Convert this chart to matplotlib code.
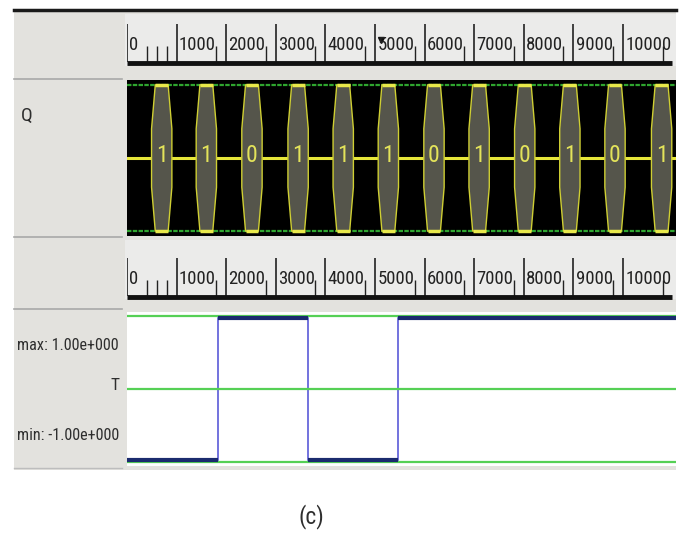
import matplotlib
matplotlib.use("Agg")
import matplotlib.pyplot as plt
from matplotlib.patches import Rectangle, Polygon
from matplotlib import font_manager as fm

W, H = 685, 558

# pick a narrow font if one is installed, else DejaVu Sans
_names = {f.name for f in fm.fontManager.ttflist}
NARROW = None
for cand in ["Liberation Sans Narrow", "DejaVu Sans Condensed", "Noto Sans Condensed",
             "Roboto Condensed", "Open Sans Condensed"]:
    if cand in _names:
        NARROW = cand
        break
_cond_stretch = None
if NARROW is None:
    for f in fm.fontManager.ttflist:
        if f.name in ("DejaVu Sans", "Noto Sans", "Open Sans") and str(f.stretch) in (
                "condensed", "semi-condensed", "extra-condensed", "75", "87"):
            NARROW = f.name
            _cond_stretch = f.stretch
            break
if NARROW is None:
    FAM = ["DejaVu Sans"]
    SCALE = 0.72
    STRETCH = "normal"
else:
    FAM = [NARROW, "DejaVu Sans"]
    SCALE = 1.0
    STRETCH = _cond_stretch if _cond_stretch is not None else "normal"
plt.rcParams['font.family'] = FAM
plt.rcParams['font.stretch'] = STRETCH

# ---- data ----
ruler_labels = ["0", "1000", "2000", "3000", "4000", "5000", "6000", "7000", "8000", "9000", "10000"]
ruler_major = [0, 1000, 2000, 3000, 4000, 5000, 6000, 7000, 8000, 9000, 10000]
ruler_minor = [400, 600, 800, 1800, 2800, 3800, 4800, 5800, 6800, 7800, 8800, 9800, 10800]
q_times = [700, 1600, 2520, 3450, 4360, 5270, 6190, 7100, 8020, 8930, 9840, 10780]
q_values = ["1", "1", "0", "1", "1", "1", "0", "1", "0", "1", "0", "1"]
t_edges = [0, 1835, 3650, 5465, 11070]
t_values = [-1, 1, -1, 1]
t_max_label = "max: 1.00e+000"
t_min_label = "min: -1.00e+000"
XMAX = 11070

fig = plt.figure(figsize=(W / 100, H / 100), dpi=100)
fig.patch.set_facecolor("white")


def box(x0, y0, x1, y1):
    return [x0 / W, 1 - y1 / H, (x1 - x0) / W, (y1 - y0) / H]


TXT = "#2e2e2e"

# background axes in pixel coordinates
bg = fig.add_axes([0, 0, 1, 1])
bg.set_xlim(0, W)
bg.set_ylim(H, 0)
bg.axis("off")
bg.add_patch(Rectangle((14, 12), 662, 458, facecolor="#e3e2de", edgecolor="none"))
bg.add_patch(Rectangle((125, 14), 551, 52, facecolor="#ebebea", edgecolor="none"))
bg.add_patch(Rectangle((125, 240), 551, 59, facecolor="#ebebea", edgecolor="none"))
bg.plot([14, 676], [10, 10], color="#1a1a1a", lw=2.5)
for yy in (79, 237, 309):
    bg.plot([14, 122], [yy, yy], color="#a9a9a9", lw=1.2)
bg.plot([14, 122], [468, 468], color="#bdbdbd", lw=1.0)
bg.text(21, 116, "Q", fontsize=14 * SCALE, color=TXT, ha="left", va="center")
bg.text(119, 345, t_max_label, fontsize=11.6 * SCALE, color=TXT, ha="right", va="center")
bg.text(119, 386, "T", fontsize=12.5 * SCALE, color=TXT, ha="right", va="center")
bg.text(119, 436, t_min_label, fontsize=11.6 * SCALE, color=TXT, ha="right", va="center")
bg.text(311, 517, "(c)", fontsize=17 * SCALE, color=TXT, ha="center", va="center")


def ruler(y0, y1):
    ax = fig.add_axes(box(127, y0, 676, y1))
    ax.set_xlim(0, XMAX)
    ax.set_ylim(1, 0)
    ax.axis("off")
    ax.vlines(ruler_major, 0.2, 0.93, color="#222222", lw=1.2)
    ax.vlines(ruler_minor, 0.62, 0.93, color="#222222", lw=1.0)
    for xm, lab in zip(ruler_major, ruler_labels):
        ax.text(xm + 45, 0.6, lab, fontsize=13.5 * SCALE, color="#222222",
                ha="left", va="center")
    ax.plot([0, XMAX * 0.992], [0.95, 0.95], color="#111111", lw=3.5,
            solid_capstyle="butt")
    return ax


r1 = ruler(14, 66)
r1.plot([5130], [0.5], marker="v", color="#111111", markersize=4)
r2 = ruler(248, 300)

# ---- Q panel ----
axq = fig.add_axes(box(127, 80, 676, 236))
axq.set_facecolor("black")
axq.set_xlim(0, XMAX)
axq.set_ylim(-1.068, 1.068)
axq.set_xticks([])
axq.set_yticks([])
for s in axq.spines.values():
    s.set_visible(False)
axq.axhline(1.0, color="#2fa52f", lw=1.6, ls=(0, (2, 0.6)))
axq.axhline(-1.0, color="#2fa52f", lw=1.6, ls=(0, (2, 0.6)))
axq.axhline(0.0, color="#e6e63a", lw=2.2, zorder=2)
hw_end, hw_mid = 130, 205
for c, v in zip(q_times, q_values):
    pts = [(c - hw_end, 1), (c + hw_end, 1), (c + hw_mid, 0.4), (c + hw_mid, -0.4),
           (c + hw_end, -1), (c - hw_end, -1), (c - hw_mid, -0.4), (c - hw_mid, 0.4)]
    axq.add_patch(Polygon(pts, closed=True, facecolor="#55554b", edgecolor="#cfcf33",
                          lw=1.0, zorder=3))
    axq.plot([c - hw_end, c + hw_end], [1, 1], color="#e8e84a", lw=2.5, zorder=5,
             solid_capstyle="butt")
    axq.plot([c - hw_end, c + hw_end], [-1, -1], color="#e8e84a", lw=2.5, zorder=5,
             solid_capstyle="butt")
    axq.text(c, 0.04, v, fontsize=17 * SCALE, color="#e3e35a", ha="center", va="center",
             zorder=6)

# ---- T panel ----
axt = fig.add_axes(box(127, 312, 676, 466))
axt.set_facecolor("white")
axt.set_xlim(0, XMAX)
axt.set_ylim(-1.092, 1.092)
axt.set_xticks([])
axt.set_yticks([])
for s in axt.spines.values():
    s.set_visible(False)
for yy in (1.04, 0.0, -1.04):
    axt.axhline(yy, color="#55d055", lw=1.6)
axt.stairs(t_values, t_edges, color="#5a5ad8", lw=1.2, baseline=None)
axt.hlines(t_values, t_edges[:-1], t_edges[1:], color="#1b2b6e", lw=3)

fig.savefig("out.png", dpi=100, facecolor="white")
